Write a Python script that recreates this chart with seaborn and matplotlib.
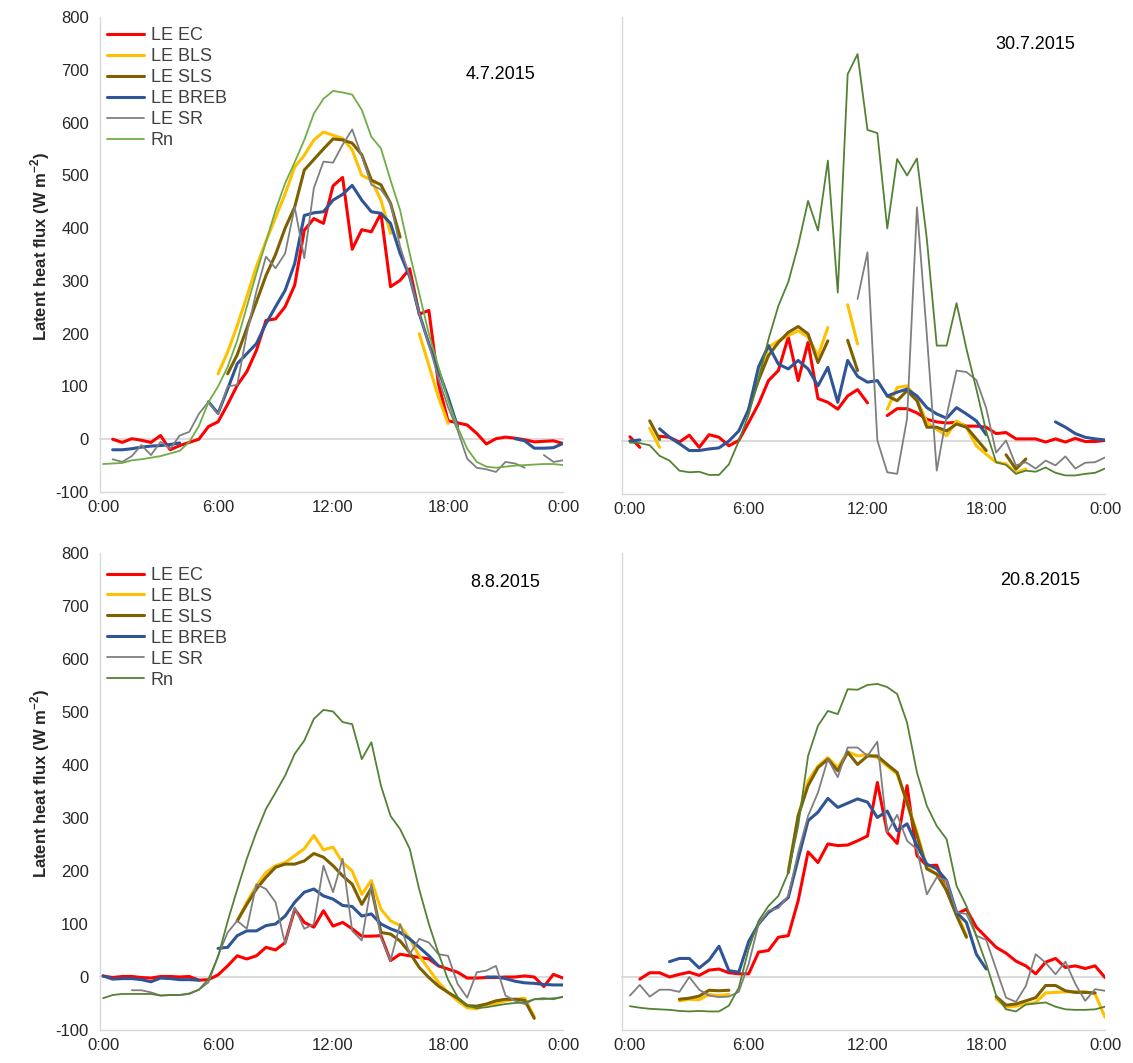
import numpy as np
import pandas as pd
import matplotlib
matplotlib.use("Agg")
import matplotlib.pyplot as plt
from matplotlib.lines import Line2D
import seaborn as sns

nan = np.nan

# Half-hourly time axis, 0:00 .. 24:00
hours = np.arange(49) * 0.5

series_names = ["LE EC", "LE BLS", "LE SLS", "LE BREB", "LE SR", "Rn"]
tick_hours = [0, 6, 12, 18, 24]
tick_labels = ["0:00", "6:00", "12:00", "18:00", "0:00"]
y_ticks = list(range(-100, 801, 100))
day_labels = ["4.7.2015", "30.7.2015", "8.8.2015", "20.8.2015"]

# ---- 4.7.2015 ----
jul04_ec = [nan, 0, -6, 1, -2, -6, 7, -20, -12, -6, 0, 24, 33, 66, 102, 128, 168, 225, 228, 251,
            292, 396, 418, 409, 480, 496, 360, 397, 393, 428, 289, 301, 323, 237, 244, 105, 35, 31,
            27, 11, -9, 1, 4, 2, -1, -5, -4, -3, -8]
jul04_bls = [nan] * 12 + [124, 165, 215, 270, 327, 375, 420, 465, 516, 538, 567, 582, 576, 570, 548,
                          500, 491, 453, 390] + [nan, nan] + [200, 140, 80, 30] + [nan] * 12
jul04_sls = [nan] * 13 + [124, 160, 210, 260, 310, 350, 400, 440, 510, 530, 550, 569, 567, 561, 539,
                          491, 482, 447, 383] + [nan] * 17
jul04_breb = [nan, -20, -20, -18, -15, -13, -12, -10, -7, nan, nan, 71, 49, 95, 143, 162, 181, 219,
              251, 282, 333, 424, 429, 431, 453, 464, 481, 453, 431, 428, 409, 352, 308, 238, 181,
              131, 80, 24] + [nan] * 5 + [1, -3, -17, -17, -16, -8]
jul04_sr = [nan, -38, -43, -32, -11, -30, -5, -18, 7, 14, 48, 71, 47, 100, 103, 200, 280, 346, 324,
            352, 440, 343, 476, 526, 524, 558, 587, 536, 482, 473, 447, 365, 308, 238, 180, 115, 61,
            17, -37, -54, -57, -62, -43, -46, -54, nan, -30, -43, -40]
jul04_rn = [-47, -46, -45, -40, -38, -35, -32, -27, -22, -5, 25, 70, 100, 137, 187, 251, 314, 374,
            434, 485, 525, 567, 617, 645, 660, 657, 653, 624, 573, 551, 491, 434, 352, 276, 200, 137,
            74, 23, -18, -43, -52, -54, -52, -50, -49, -48, -47, -47, -49]

# ---- 30.7.2015 ----
jul30_ec = [8, -12, nan, 9, 7, -2, 11, -12, 12, 7, -9, 1, 35, 70, 114, 133, 196, 114, 186, 80, 73,
            60, 85, 97, 72, nan, 48, 61, 61, 53, 41, 36, 34, 35, 28, 28, 26, 14, 16, 4, 4, 4, -2, 4,
            -2, 5, -1, -1, 1]
jul30_bls = [nan, nan, 24, -12] + [nan] * 9 + [123, 177, 189, 199, 208, 196, 161, 214, nan, 257, 183,
                                               nan, nan, 60, 101, 104, 79, 35, 22, 10, 38, 26, -9,
                                               -25, -40, -43, -60, -53] + [nan] * 8
jul30_sls = [nan, nan, 38, 3] + [nan] * 8 + [60, 115, 161, 186, 205, 216, 202, 148, 189, nan, 190,
                                              133, nan, nan, 85, 76, 95, 76, 26, 26, 19, 32, 26, 4,
                                              -18, nan, -26, -53, -34] + [nan] * 8
jul30_breb = [0, 2, nan, 23, 7, -5, -18, -18, -15, -13, 0, 19, 60, 140, 180, 145, 136, 152, 136, 104,
              139, 73, 152, 122, 111, 114, 85, 92, 98, 85, 63, 51, 43, 63, 51, 38, 12] + [nan] * 6 + \
             [36, 26, 14, 7, 4, 2]
jul30_sr = [nan] * 23 + [268, 356, 1, -59, -62, 42, 441, 200, -56, 48, 133, 130, 115, 62, -22, 1,
                         -46, -40, -52, -37, -46, -29, -52, -41, -40, -31]
jul30_rn = [-3, -4, -8, -28, -37, -56, -59, -58, -64, -64, -44, 0, 50, 117, 192, 255, 300, 369, 453,
            397, 529, 280, 692, 730, 587, 581, 401, 532, 501, 533, 381, 180, 180, 260, 174, 98, 18,
            -40, -45, -62, -56, -58, -50, -60, -65, -65, -62, -60, -52]

# ---- 8.8.2015 ----
aug08_ec = [2, -1, 1, 1, -1, -2, 1, 1, 0, 1, -6, -5, 4, 21, 40, 34, 40, 56, 51, 65, 128, 103, 94,
            125, 96, 103, 91, 77, 77, 78, 31, 43, 40, 37, 34, 21, 15, 9, -2, -2, -1, -1, 0, 0, 2, 0,
            -18, 5, -2]
aug08_bls = [nan] * 14 + [105, 141, 172, 197, 210, 216, 229, 242, 267, 240, 245, 216, 200, 156, 182,
                          128, 106, 97, 72, 40, 15, -10, -29, -45, -58, -60, -52, -50, -45, -42, -40,
                          -75] + [nan] * 3
aug08_sls = [nan] * 14 + [106, 137, 166, 188, 207, 213, 213, 219, 233, 226, 210, 191, 175, 137, 168,
                          84, 81, 68, 46, 18, -1, -17, -29, -40, -54, -55, -51, -45, -42, -42, -44,
                          -78] + [nan] * 3
aug08_breb = [2, -4, -3, -3, -5, -9, -2, -3, -5, -5, -6, nan, 54, 56, 78, 87, 87, 97, 100, 115, 141,
              160, 166, 153, 147, 135, 133, 115, 119, 100, 91, 84, 72, 56, 40, 21] + [nan] * 4 + \
             [0, 0, -3, -8, -11, -12, -14, -15, -15]
aug08_sr = [nan, nan, nan, -25, -25, -29, -35, -34, -34, -32, -24, -10, 40, 84, 106, 91, 175, 166,
            141, 62, 131, 91, 100, 210, 160, 223, 87, 69, 175, 75, 31, 100, 43, 72, 65, 43, 40, -13,
            -39, 9, 12, 21, -35, -45, -51, -42, -42, -40, -38]
aug08_rn = [-40, -34, -32, -32, -32, -32, -35, -34, -34, -31, -24, -4, 38, 105, 165, 223, 273, 317,
            348, 380, 421, 446, 487, 504, 501, 481, 477, 411, 443, 361, 304, 279, 242, 165, 100, 45,
            -5, -38, -54, -59, -57, -54, -51, -49, -48, -42, -40, -42, -37]

# ---- 20.8.2015 ----
aug20_ec = [nan, -4, 8, 8, 0, 5, 9, 3, 13, 15, 8, 6, 6, 47, 50, 75, 78, 144, 236, 216, 251, 248,
            249, 257, 266, 367, 273, 252, 361, 229, 210, 211, 163, 119, 128, 94, 75, 56, 45, 30, 21,
            6, 28, 35, 18, 21, 16, 21, -1]
aug20_bls = [nan] * 5 + [-45, -42, -43, -33, -35, -33] + [nan] * 5 + \
            [200, 304, 370, 398, 414, 395, 425, 417, 420, 414, 398, 383, 329, 273, 207, 194, 166,
             122, 78] + [nan, nan] + [-41, -57, -55, -51, -48, -30, -29, -28, -28, -28, -32, -76]
aug20_sls = [nan] * 5 + [-42, -40, -36, -25, -26, -25] + [nan] * 5 + \
            [197, 304, 361, 395, 411, 389, 424, 401, 417, 417, 401, 386, 329, 267, 204, 194, 163,
             116, 75] + [nan, nan] + [-37, -53, -51, -45, -39, -16, -16, -26, -29, -29, -30, nan]
aug20_breb = [nan] * 4 + [29, 35, 35, 17, 32, 58, 12, 9, 67, 100, 122, 134, 150, 223, 295, 311, 337,
                          320, 328, 336, 330, 301, 313, 276, 289, 248, 213, 204, 182, 122, 103, 43,
                          15] + [nan] * 12
aug20_sr = [-35, -15, -37, -24, -24, -28, 0, -24, -35, -38, -37, -28, 25, 100, 125, 130, 153, 235,
            304, 348, 411, 377, 433, 433, 417, 444, 273, 306, 257, 241, 156, 188, 182, 122, 119, 78,
            70, 15, -39, -47, -17, 43, 27, 5, 29, -13, -45, -23, -26]
aug20_rn = [-55, -58, -60, -61, -62, -64, -65, -64, -65, -65, -54, -20, 53, 106, 134, 153, 197, 285,
            417, 474, 502, 496, 543, 542, 551, 553, 547, 534, 480, 386, 323, 285, 260, 172, 134, 77,
            25, -35, -61, -65, -52, -50, -48, -56, -61, -62, -62, -61, -56]

days = [
    [jul04_ec, jul04_bls, jul04_sls, jul04_breb, jul04_sr, jul04_rn],
    [jul30_ec, jul30_bls, jul30_sls, jul30_breb, jul30_sr, jul30_rn],
    [aug08_ec, aug08_bls, aug08_sls, aug08_breb, aug08_sr, aug08_rn],
    [aug20_ec, aug20_bls, aug20_sls, aug20_breb, aug20_sr, aug20_rn],
]

# ---- styling ----
base_colors = ["#FF0000", "#FFC000", "#7F6000", "#2F5597", "#7F7F7F", "#548235"]
line_widths = [2.2, 2.2, 2.2, 2.2, 1.3, 1.3]
rn_colors = ["#70AD47", "#548235", "#548235", "#548235"]
grid_grey = "#D9D9D9"
text_col = "#262626"

sns.set_style("white")
plt.rcParams["font.family"] = ["Liberation Sans", "DejaVu Sans"]
plt.rcParams["axes.unicode_minus"] = False
plt.rcParams["mathtext.fontset"] = "custom"
plt.rcParams["mathtext.rm"] = "Liberation Sans"
plt.rcParams["mathtext.bf"] = "Liberation Sans:bold"

W, H = 1133, 1063
fig = plt.figure(figsize=(W / 100, H / 100), dpi=100)

# panel boxes in pixels: (left, top, right, bottom) and x-limit start
panel_px = [
    (100, 17, 563, 492, -0.16),
    (622, 17, 1105, 494, -0.40),
    (100, 553, 563, 1030, -0.16),
    (622, 553, 1105, 1030, -0.40),
]
date_pos = [(0.864, 0.878), (0.855, 0.943), (0.875, 0.939), (0.865, 0.943)]
legend_top = [0.978, None, 0.971, None]


def to_long(values):
    """Long frame with a segment id for every unbroken run of values."""
    v = np.asarray(values, dtype=float)
    valid = ~np.isnan(v)
    seg = np.cumsum(np.r_[True, valid[1:] != valid[:-1]])
    df = pd.DataFrame({"time": hours, "value": v, "seg": seg})
    return df[valid]


for k, (series, (l, t, r, b, x0)) in enumerate(zip(days, panel_px)):
    ax = fig.add_axes([l / W, 1 - b / H, (r - l) / W, (b - t) / H])
    for j, vals in enumerate(series):
        color = rn_colors[k] if j == 5 else base_colors[j]
        df = to_long(vals)
        sns.lineplot(data=df, x="time", y="value", units="seg", estimator=None,
                     color=color, linewidth=line_widths[j], ax=ax, legend=False,
                     zorder=2 + j)

    ax.set_xlim(x0, 24)
    ax.set_ylim(-100, 800)
    ax.set_xlabel("")
    ax.set_ylabel("")
    for side in ("top", "right"):
        ax.spines[side].set_visible(False)
    ax.spines["left"].set_color(grid_grey)
    ax.spines["left"].set_linewidth(1.0)
    ax.spines["bottom"].set_position(("data", 0))
    ax.spines["bottom"].set_color(grid_grey)
    ax.spines["bottom"].set_linewidth(1.3)
    ax.spines["bottom"].set_zorder(1)

    ax.set_xticks(tick_hours)
    ax.tick_params(axis="x", direction="out", length=5, width=1.3, color=grid_grey,
                   labelbottom=False)
    ax.set_yticks(y_ticks)
    ax.tick_params(axis="y", length=0, labelsize=12, labelcolor=text_col, pad=8,
                   labelleft=(k % 2 == 0))

    sec = ax.secondary_xaxis("bottom")
    sec.set_xticks(tick_hours)
    sec.set_xticklabels(tick_labels)
    sec.tick_params(length=0, labelsize=12, labelcolor=text_col, pad=6)
    sec.spines["bottom"].set_color(grid_grey)
    sec.spines["bottom"].set_linewidth(1.0)

    ax.text(date_pos[k][0], date_pos[k][1], day_labels[k], transform=ax.transAxes,
            ha="center", va="center", fontsize=13, color="black")

    if k % 2 == 0:
        handles = [Line2D([], [], color=(rn_colors[k] if j == 5 else base_colors[j]),
                          linewidth=line_widths[j]) for j in range(6)]
        ax.legend(handles, series_names, loc="upper left",
                  bbox_to_anchor=(0.016, legend_top[k]),
                  frameon=False, fontsize=13, handlelength=2.0, handletextpad=0.4,
                  labelspacing=0.22, borderpad=0, borderaxespad=0, labelcolor="#404040")
        fig.text(40 / W, 1 - ((t + b) / 2 - 8) / H,
                 r"Latent heat flux (W m$^{\mathbf{-2}}$)", rotation=90,
                 ha="center", va="center", fontsize=12, fontweight="bold", color=text_col)

fig.savefig("out.png", dpi=100, facecolor="white")
